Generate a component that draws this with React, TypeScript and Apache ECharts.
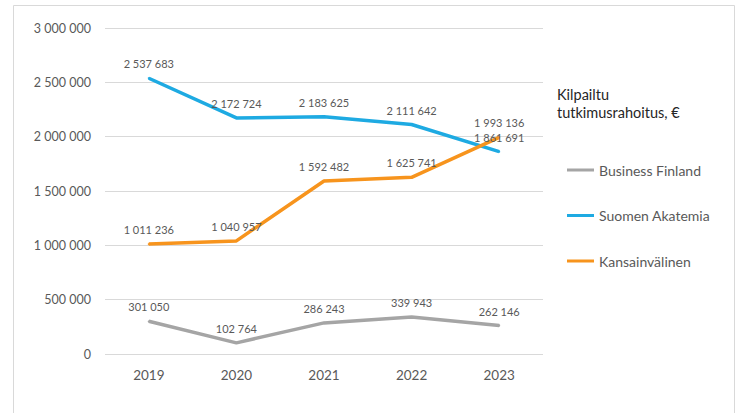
import React, { useEffect, useRef } from "react";
import * as echarts from "echarts";

const years = ["2019", "2020", "2021", "2022", "2023"];
const businessFinland = [301050, 102764, 286243, 339943, 262146];
const suomenAkatemia = [2537683, 2172724, 2183625, 2111642, 1861691];
const kansainvalinen = [1011236, 1040957, 1592482, 1625741, 1993136];
const seriesNames = ["Business Finland", "Suomen Akatemia", "Kansainvälinen"];
const legendTitle = ["Kilpailtu", "tutkimusrahoitus, €"];

const fmt = (v: number) => String(Math.round(v)).replace(/\B(?=(\d{3})+(?!\d))/g, " ");
const FONT = "Lato, 'Open Sans', sans-serif";

export default function App() {
  const ref = useRef<HTMLDivElement>(null);
  useEffect(() => {
    if (!ref.current) return;
    const chart = echarts.init(ref.current, undefined, { renderer: "svg" });
    const mk = (name: string, data: number[], color: string) => ({
      name,
      type: "line",
      data,
      symbol: "circle",
      symbolSize: 2,
      lineStyle: { color, width: 3.5 },
      itemStyle: { color },
      label: {
        show: true,
        position: "top",
        distance: 8,
        formatter: (p: any) => fmt(p.value),
        fontFamily: FONT,
        fontSize: 11,
        color: "#595959",
      },
    });
    chart.setOption({
      animation: false,
      textStyle: { fontFamily: FONT },
      grid: { left: 105, right: 193, top: 28, bottom: 59, containLabel: false },
      xAxis: {
        type: "category",
        data: years,
        boundaryGap: true,
        axisLine: { show: false },
        axisTick: { show: false },
        axisLabel: { color: "#595959", fontSize: 13.5, margin: 14, fontFamily: FONT },
      },
      yAxis: {
        type: "value",
        min: 0,
        max: 3000000,
        interval: 500000,
        axisLine: { show: false },
        axisTick: { show: false },
        splitLine: { lineStyle: { color: "#D9D9D9", width: 1 } },
        axisLabel: {
          color: "#595959",
          fontSize: 12.5,
          margin: 14,
          fontFamily: FONT,
          formatter: (v: number) => fmt(v),
        },
      },
      legend: {
        orient: "vertical",
        left: 567,
        top: 162,
        padding: 0,
        itemWidth: 27,
        itemHeight: 3,
        itemGap: 29.5,
        icon: "rect",
        data: seriesNames,
        textStyle: { color: "#595959", fontSize: 14, fontFamily: FONT, lineHeight: 16 },
      },
      graphic: [
        {
          type: "rect",
          shape: { x: 13.5, y: 5.5, width: 721, height: 430 },
          style: { fill: "none", stroke: "#D9D9D9", lineWidth: 1 },
          silent: true,
        },
        {
          type: "text",
          left: 557,
          top: 85,
          style: {
            text: legendTitle.join("\n"),
            fontSize: 14.5,
            lineHeight: 18,
            fill: "#262626",
            fontFamily: FONT,
          },
        },
      ],
      series: [
        mk(seriesNames[0], businessFinland, "#A5A5A5"),
        mk(seriesNames[1], suomenAkatemia, "#1EAAE2"),
        mk(seriesNames[2], kansainvalinen, "#F7941D"),
      ],
    });
    return () => chart.dispose();
  }, []);
  return (
    <div
      ref={ref}
      style={{ position: "absolute", left: 0, top: 0, width: 736, height: 413, background: "#fff" }}
    />
  );
}
